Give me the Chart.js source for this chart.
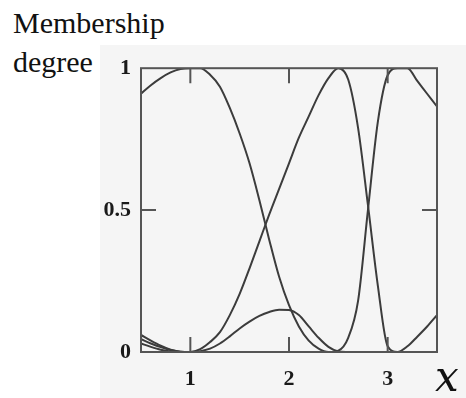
<!DOCTYPE html>
<html lang="en">
<head>
    <meta charset="UTF-8">
    <title>Membership functions</title>
    <script src="https://cdn.jsdelivr.net/npm/chart.js"></script>
    <style>
        body {
            margin: 0;
            padding: 0;
            background: #ffffff;
            width: 466px;
            height: 398px;
            overflow: hidden;
            position: relative;
            font-family: "Liberation Serif", serif;
        }
        .ylabel {
            position: absolute;
            left: 13px;
            top: 3px;
            font-size: 30px;
            line-height: 39px;
            color: #111;
        }
        .panel {
            position: absolute;
            left: 100px;
            top: 45px;
            width: 366px;
            height: 353px;
            background: #f5f5f5;
        }
        .xlabel {
            position: absolute;
            left: 435px;
            top: 356px;
            font-family: "DejaVu Serif", serif;
            font-size: 42px;
            line-height: 42px;
            font-style: italic;
            color: #111;
        }
    </style>
</head>
<body>
    <div class="ylabel">Membership<br>degree</div>
    <div class="panel">
        <canvas id="mf"></canvas>
    </div>
    <div class="xlabel">x</div>

    <script>
        // sample points along x
        const xs = [0.5, 0.6, 0.7, 0.8, 0.9, 1.0, 1.1, 1.2, 1.3, 1.4, 1.5, 1.6, 1.7, 1.8, 1.9, 2.0,
                    2.1, 2.2, 2.3, 2.4, 2.5, 2.6, 2.7, 2.8, 2.9, 3.0, 3.1, 3.2, 3.3, 3.4, 3.5];

        const muA = [0.91, 0.94, 0.965, 0.985, 0.997, 1.0, 1.0, 0.977, 0.935, 0.86, 0.77, 0.665, 0.535, 0.395, 0.265, 0.165,
                     0.09, 0.04, 0.012, 0, 0, 0, 0, 0, 0, 0, 0, 0, 0, null, null];
        const muB = [0.06, 0.04, 0.022, 0.008, 0.001, 0, 0.01, 0.035, 0.07, 0.13, 0.205, 0.295, 0.39, 0.485, 0.575, 0.665,
                     0.755, 0.83, 0.905, 0.965, 1.0, 0.96, 0.79, 0.518, 0.235, 0.02, 0, 0.02, 0.054, 0.09, 0.13];
        const muC = [0.045, 0.03, 0.017, 0.007, 0.001, 0, 0.003, 0.012, 0.03, 0.055, 0.083, 0.107, 0.127, 0.141, 0.149, 0.148,
                     0.13, 0.09, 0.05, 0.018, 0.002, 0, null, null, null, null, null, null, null, null, null];
        const muD = [0.03, 0.018, 0.008, 0.002, 0, 0, 0, 0, 0, 0, 0, 0, 0, 0, 0, 0,
                     0, 0, 0, 0, 0.005, 0.05, 0.18, 0.5, 0.81, 0.975, 1.0, 1.0, 0.955, 0.91, 0.865];

        const xTicks = [1, 2, 3];
        const yTicks = [0, 0.5, 1];

        const lineColor = '#3c3c3c';
        const frameColor = '#555555';

        function series(values) {
            return {
                data: xs.map((x, i) => ({ x: x, y: values[i] })),
                borderColor: lineColor,
                borderWidth: 2,
                pointRadius: 0,
                cubicInterpolationMode: 'monotone',
                fill: false
            };
        }

        // box around the plot with short inward ticks on every side
        const frame = {
            id: 'frame',
            afterDatasetsDraw(chart) {
                const { ctx, chartArea: a, scales } = chart;
                const len = 15;
                ctx.save();
                ctx.strokeStyle = frameColor;
                ctx.lineWidth = 2;
                ctx.strokeRect(a.left, a.top, a.right - a.left, a.bottom - a.top);
                ctx.beginPath();
                xTicks.forEach(v => {
                    const px = scales.x.getPixelForValue(v);
                    ctx.moveTo(px, a.bottom); ctx.lineTo(px, a.bottom - len);
                    ctx.moveTo(px, a.top); ctx.lineTo(px, a.top + len);
                });
                const py = scales.y.getPixelForValue(0.5);
                ctx.moveTo(a.left, py); ctx.lineTo(a.left + len, py);
                ctx.moveTo(a.right, py); ctx.lineTo(a.right - len, py);
                ctx.stroke();
                ctx.restore();
            }
        };

        const tickFont = { family: '"Liberation Serif", serif', size: 22, weight: 'bold' };

        new Chart(document.getElementById('mf'), {
            type: 'line',
            data: {
                datasets: [series(muA), series(muB), series(muC), series(muD)]
            },
            options: {
                responsive: true,
                maintainAspectRatio: false,
                devicePixelRatio: 1,
                animation: false,
                layout: { padding: { top: 23, right: 29, left: 0, bottom: 0 } },
                plugins: {
                    legend: { display: false },
                    tooltip: { enabled: false }
                },
                scales: {
                    x: {
                        type: 'linear',
                        min: 0.5,
                        max: 3.5,
                        afterBuildTicks: s => { s.ticks = xTicks.map(v => ({ value: v })); },
                        afterFit: s => { s.height = 46; },
                        grid: { display: false, drawTicks: false },
                        border: { display: false },
                        ticks: {
                            padding: 14,
                            color: '#1a1a1a',
                            font: tickFont,
                            maxRotation: 0,
                            callback: v => String(v)
                        }
                    },
                    y: {
                        min: 0,
                        max: 1,
                        afterBuildTicks: s => { s.ticks = yTicks.map(v => ({ value: v })); },
                        afterFit: s => { s.width = 41; },
                        grid: { display: false, drawTicks: false },
                        border: { display: false },
                        ticks: {
                            padding: 10,
                            color: '#1a1a1a',
                            font: tickFont,
                            callback: v => String(v)
                        }
                    }
                }
            },
            plugins: [frame]
        });
    </script>
</body>
</html>
